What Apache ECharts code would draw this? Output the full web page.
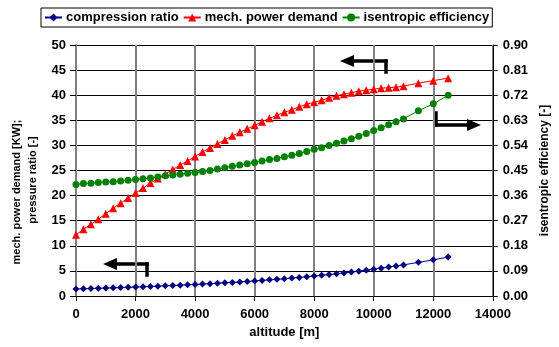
<!DOCTYPE html>
<html lang="en">
<head>
<meta charset="UTF-8">
<title>compressor vs altitude</title>
<style type="text/css">
  html, body { margin: 0; padding: 0; background: #fff; }
  #chart { width: 559px; height: 347px; }
</style>
</head>
<body>
<div id="chart"></div>
<script src="https://cdn.jsdelivr.net/npm/echarts@6/dist/echarts.min.js"></script>
<script type="text/javascript">
// altitude [m]
var altitude = [0, 250, 500, 750, 1000, 1250, 1500, 1750, 2000, 2250, 2500, 2750,
  3000, 3250, 3500, 3750, 4000, 4250, 4500, 4750, 5000, 5250, 5500, 5750,
  6000, 6250, 6500, 6750, 7000, 7250, 7500, 7750, 8000, 8250, 8500, 8750,
  9000, 9250, 9500, 9750, 10000, 10250, 10500, 10750, 11000, 11500, 12000, 12500];

// pressure ratio [-] (left axis)
var compressionRatio = [1.40, 1.44, 1.49, 1.53, 1.58, 1.63, 1.68, 1.73, 1.78, 1.84, 1.90, 1.96,
  2.02, 2.09, 2.16, 2.23, 2.30, 2.38, 2.46, 2.54, 2.63, 2.71, 2.81, 2.90,
  3.00, 3.11, 3.22, 3.33, 3.45, 3.57, 3.70, 3.84, 3.98, 4.12, 4.27, 4.43,
  4.60, 4.77, 4.95, 5.14, 5.35, 5.55, 5.76, 5.98, 6.20, 6.70, 7.20, 7.75];

// mech. power demand [KW] (left axis)
var powerDemand = [12.2, 13.3, 14.3, 15.3, 16.4, 17.5, 18.5, 19.5, 20.5, 21.5, 22.5, 23.4,
  24.3, 25.2, 26.1, 26.9, 27.8, 28.7, 29.5, 30.3, 31.1, 31.9, 32.6, 33.3,
  34.0, 34.7, 35.4, 36.0, 36.6, 37.1, 37.7, 38.2, 38.6, 39.0, 39.5, 39.9,
  40.2, 40.5, 40.8, 41.0, 41.2, 41.4, 41.5, 41.6, 41.8, 42.4, 42.9, 43.4];

// isentropic efficiency [-] (right axis)
var efficiency = [0.400, 0.403, 0.404, 0.407, 0.409, 0.410, 0.412, 0.415, 0.418, 0.420, 0.423, 0.427,
  0.431, 0.434, 0.437, 0.440, 0.443, 0.446, 0.450, 0.455, 0.460, 0.465, 0.470, 0.474,
  0.479, 0.484, 0.489, 0.493, 0.499, 0.505, 0.511, 0.518, 0.526, 0.532, 0.540, 0.548,
  0.556, 0.564, 0.573, 0.583, 0.593, 0.603, 0.614, 0.625, 0.635, 0.664, 0.689, 0.720];

var leftTicks = { min: 0, max: 50, interval: 5 };
var rightTicks = { min: 0, max: 0.9, interval: 0.09 };
var xTicks = { min: 0, max: 14000, interval: 2000 };

function pairs(ys) {
  return altitude.map(function (a, i) { return [a, ys[i]]; });
}

var font = 'Arial, "Liberation Sans", sans-serif';
var myChart = echarts.init(document.getElementById('chart'), null, { renderer: 'canvas' });

// bent black arrows pointing to the axis each curve belongs to
// cx = x of the short vertical tail, y0..y1 its extent, tipX = arrow tip (on row y1)
function arrow(cx, y0, y1, tipX) {
  var w = 3.5, dir = tipX < cx ? -1 : 1, baseX = tipX - dir * 14;
  var left = Math.min(cx, baseX), right = Math.max(cx, baseX);
  return [{
    type: 'rect',
    shape: { x: cx - w / 2, y: Math.min(y0, y1) - w / 2, width: w, height: Math.abs(y1 - y0) + w },
    style: { fill: '#000' }
  }, {
    type: 'rect',
    shape: { x: left - w / 2, y: y1 - w / 2, width: right - left + w, height: w },
    style: { fill: '#000' }
  }, {
    type: 'polygon',
    shape: { points: [[tipX, y1], [baseX, y1 - 6], [baseX, y1 + 6]] },
    style: { fill: '#000' }
  }];
}

var graphics = []
  .concat(arrow(386, 72, 61, 340))
  .concat(arrow(147, 275, 264, 103))
  .concat(arrow(436, 113, 125, 481));

graphics.push({
  type: 'text', x: 17, y: 192, rotation: Math.PI / 2,
  style: { text: 'mech. power demand [KW];', font: 'bold 11px ' + font, fill: '#000',
    textAlign: 'center', textVerticalAlign: 'middle' }
});
graphics.push({
  type: 'text', x: 33, y: 180, rotation: Math.PI / 2,
  style: { text: 'pressure ratio [-]', font: 'bold 11px ' + font, fill: '#000',
    textAlign: 'center', textVerticalAlign: 'middle' }
});

var option = {
  animation: false,
  backgroundColor: '#fff',
  textStyle: { fontFamily: font },
  legend: {
    left: 41, top: 8,
    padding: [3, 3],
    itemGap: 4,
    itemWidth: 17, itemHeight: 10,
    borderColor: '#000', borderWidth: 1,
    textStyle: { fontSize: 13, fontWeight: 'bold', color: '#000', padding: [0, 0, 0, -1] },
    data: ['compression ratio', 'mech. power demand', 'isentropic efficiency']
  },
  grid: { left: 76, right: 56, top: 45, bottom: 51 },
  xAxis: {
    type: 'value',
    min: xTicks.min, max: xTicks.max, interval: xTicks.interval,
    name: 'altitude [m]', nameLocation: 'middle', nameGap: 30,
    nameTextStyle: { fontSize: 13, fontWeight: 'bold', color: '#000' },
    axisLine: { lineStyle: { color: '#000', width: 1 } },
    axisTick: { show: true, length: 5, lineStyle: { color: '#000' } },
    axisLabel: { fontSize: 13, fontWeight: 'bold', color: '#000', margin: 12,
      formatter: function (v) { return String(v); } },
    splitLine: { show: true, lineStyle: { color: '#808080', width: 2 } }
  },
  yAxis: [{
    type: 'value', position: 'left',
    min: leftTicks.min, max: leftTicks.max, interval: leftTicks.interval,
    axisLine: { show: true, lineStyle: { color: '#808080', width: 2 } },
    axisTick: { show: true, length: 6, lineStyle: { color: '#000' } },
    axisLabel: { fontSize: 13, fontWeight: 'bold', color: '#000', margin: 10 },
    splitLine: { show: true, lineStyle: { color: '#000', width: 1 } }
  }, {
    type: 'value', position: 'right',
    min: rightTicks.min, max: rightTicks.max, interval: rightTicks.interval,
    name: 'isentropic efficiency [-]', nameLocation: 'middle', nameGap: 44,
    nameTextStyle: { fontSize: 12, fontWeight: 'bold', color: '#000' },
    axisLine: { show: true, lineStyle: { color: '#000', width: 1 } },
    axisTick: { show: true, length: 5, lineStyle: { color: '#000' } },
    axisLabel: { fontSize: 13, fontWeight: 'bold', color: '#000', margin: 10,
      formatter: function (v) { return v.toFixed(2); } },
    splitLine: { show: false }
  }],
  series: [{
    name: 'compression ratio', type: 'line', yAxisIndex: 0,
    data: pairs(compressionRatio),
    symbol: 'diamond', symbolSize: 7,
    itemStyle: { color: '#000080' },
    lineStyle: { color: '#000080', width: 1 }
  }, {
    name: 'mech. power demand', type: 'line', yAxisIndex: 0,
    data: pairs(powerDemand),
    symbol: 'triangle', symbolSize: 8,
    itemStyle: { color: '#ff0000' },
    lineStyle: { color: '#ff0000', width: 1 }
  }, {
    name: 'isentropic efficiency', type: 'line', yAxisIndex: 1,
    data: pairs(efficiency),
    symbol: 'circle', symbolSize: 7,
    itemStyle: { color: '#008000' },
    lineStyle: { color: '#008000', width: 1 }
  }],
  graphic: graphics
};

myChart.setOption(option);
</script>
</body>
</html>
